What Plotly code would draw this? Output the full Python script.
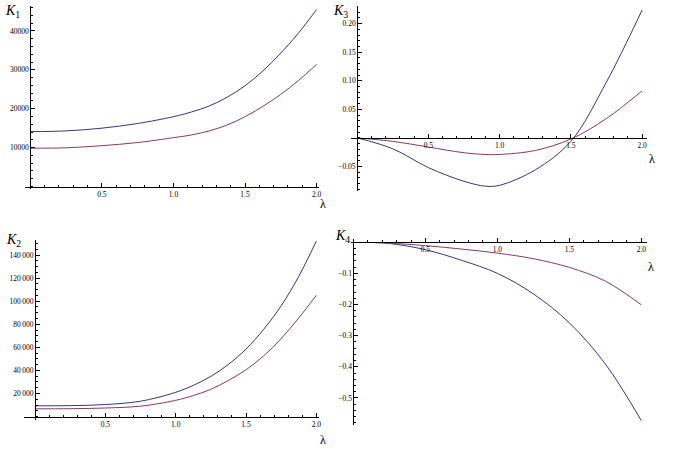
import plotly.graph_objects as go

W, H = 673, 456

# ---------------- data ----------------
lam_k1 = [0, 0.25, 0.5, 0.75, 1.0, 1.125, 1.25, 1.375, 1.5, 1.625, 1.75, 1.875, 2.0]
k1_blue = [14100, 14300, 15000, 16200, 17950, 19150, 20700, 22950, 25900, 29700, 34300, 39500, 45500]
k1_red = [9850, 9950, 10500, 11300, 12550, 13250, 14300, 15800, 17950, 20600, 23700, 27300, 31400]

lam_k2 = [0, 0.25, 0.5, 0.75, 1.0, 1.125, 1.25, 1.375, 1.5, 1.625, 1.75, 1.875, 2.0]
k2_blue = [9300, 9450, 10400, 13300, 21000, 27000, 34800, 45200, 58500, 75500, 96000, 121500, 152000]
k2_red = [6700, 6800, 7400, 9000, 14040, 18200, 23600, 31300, 40500, 52500, 67500, 85500, 105000]

lam_k3 = [0, 0.25, 0.5, 0.75, 0.9, 1.0, 1.25, 1.5, 1.75, 2.0]
k3_blue = [0, -0.019, -0.052, -0.076, -0.0845, -0.083, -0.056, -0.006, 0.098, 0.224]
k3_red = [0, -0.006, -0.016, -0.026, -0.029, -0.029, -0.022, -0.002, 0.034, 0.0825]

lam_k4 = [0.12, 0.25, 0.5, 0.75, 1.0, 1.25, 1.5, 1.75, 2.0]
k4_blue = [-0.001, -0.004, -0.024, -0.058, -0.100, -0.166, -0.259, -0.391, -0.573]
k4_red = [-0.0005, -0.003, -0.011, -0.022, -0.035, -0.053, -0.081, -0.125, -0.201]

x_ticks = [0.5, 1.0, 1.5, 2.0]
x_ticktext = ["0.5", "1.0", "1.5", "2.0"]

k1_ticks = [10000, 20000, 30000, 40000]
k1_ticktext = ["10000", "20000", "30000", "40000"]
k2_ticks = [20000, 40000, 60000, 80000, 100000, 120000, 140000]
k2_ticktext = ["20\u2009000", "40\u2009000", "60\u2009000", "80\u2009000",
               "100\u2009000", "120\u2009000", "140\u2009000"]
k3_ticks = [-0.05, 0.05, 0.10, 0.15, 0.20]
k3_ticktext = ["\u22120.05", "0.05", "0.10", "0.15", "0.20"]
k4_ticks = [-0.5, -0.4, -0.3, -0.2, -0.1]
k4_ticktext = ["\u22120.5", "\u22120.4", "\u22120.3", "\u22120.2", "\u22120.1"]

BLUE = "#37377f"
RED = "#853b66"
FONT = "Liberation Serif"

# panel geometry in pixels: x-domain (left,right), y-domain (top,bottom), ranges
panels = [
    dict(lam=lam_k1, blue=k1_blue, red=k1_red,
         xd=(25, 320), xr=(-0.038, 2.014), yd=(6, 189), yr=(-640, 46400),
         yt=k1_ticks, ytt=k1_ticktext, ymin=2000,
         label="<i>K</i><sub>1</sub>", lpos=(3, 12), lampos=(324, 204)),
    dict(lam=lam_k3, blue=k3_blue, red=k3_red,
         xd=(353, 650), xr=(-0.04, 2.035), yd=(6, 191), yr=(-0.093, 0.231),
         yt=k3_ticks, ytt=k3_ticktext, ymin=0.01,
         label="<i>K</i><sub>3</sub>", lpos=(332, 12), lampos=(655, 159)),
    dict(lam=lam_k2, blue=k2_blue, red=k2_red,
         xd=(24, 320), xr=(-0.08, 2.016), yd=(240, 420), yr=(-3000, 153000),
         yt=k2_ticks, ytt=k2_ticktext, ymin=5000,
         label="<i>K</i><sub>2</sub>", lpos=(4, 240), lampos=(324, 440)),
    dict(lam=lam_k4, blue=k4_blue, red=k4_red,
         xd=(353, 650), xr=(-0.014, 2.04), yd=(239, 425), yr=(-0.587, 0.0103),
         yt=k4_ticks, ytt=k4_ticktext, ymin=0.02,
         label="<i>K</i><sub>4</sub>", lpos=(334, 236), lampos=(654, 267)),
]

fig = go.Figure()
layout = dict(width=W, height=H, margin=dict(l=0, r=0, t=0, b=0),
              paper_bgcolor="white", plot_bgcolor="white", showlegend=False)
annotations = []

for i, p in enumerate(panels, start=1):
    sfx = "" if i == 1 else str(i)
    xd = [p["xd"][0] / W, p["xd"][1] / W]
    yd = [1 - p["yd"][1] / H, 1 - p["yd"][0] / H]
    # paper positions where the other axis crosses zero
    x0 = xd[0] + (0 - p["xr"][0]) / (p["xr"][1] - p["xr"][0]) * (xd[1] - xd[0])
    y0 = yd[0] + (0 - p["yr"][0]) / (p["yr"][1] - p["yr"][0]) * (yd[1] - yd[0])

    for vals, col in ((p["blue"], BLUE), (p["red"], RED)):
        fig.add_trace(go.Scatter(x=p["lam"], y=vals, mode="lines",
                                 line=dict(color=col, width=1, shape="spline", smoothing=1),
                                 xaxis="x" + sfx, yaxis="y" + sfx, hoverinfo="skip"))

    layout["xaxis" + sfx] = dict(
        domain=xd, range=list(p["xr"]), anchor="free", position=y0,
        showline=True, linecolor="black", linewidth=1, showgrid=False, zeroline=False,
        tickmode="array", tickvals=x_ticks, ticktext=x_ticktext,
        ticks="inside", ticklen=4, tickcolor="black", tickwidth=1,
        minor=dict(tickmode="linear", tick0=0, dtick=0.1, ticks="inside", ticklen=2,
                   tickcolor="black", tickwidth=1, showgrid=False),
        tickfont=dict(family=FONT, size=7.5, color="black"), fixedrange=True)
    layout["yaxis" + sfx] = dict(
        domain=yd, range=list(p["yr"]), anchor="free", position=x0,
        showline=True, linecolor="black", linewidth=1, showgrid=False, zeroline=False,
        tickmode="array", tickvals=p["yt"], ticktext=p["ytt"],
        ticks="inside", ticklen=4, tickcolor="black", tickwidth=1,
        minor=dict(tickmode="linear", tick0=0, dtick=p["ymin"], ticks="inside", ticklen=2,
                   tickcolor="black", tickwidth=1, showgrid=False),
        tickfont=dict(family=FONT, size=7.5, color="black"), fixedrange=True)

    annotations.append(dict(text=p["label"], xref="paper", yref="paper",
                            x=p["lpos"][0] / W, y=1 - p["lpos"][1] / H,
                            xanchor="left", yanchor="middle", showarrow=False,
                            font=dict(family=FONT, size=14, color="black")))
    annotations.append(dict(text="\u03bb", xref="paper", yref="paper",
                            x=p["lampos"][0] / W, y=1 - p["lampos"][1] / H,
                            xanchor="center", yanchor="middle", showarrow=False,
                            font=dict(family=FONT, size=12, color="black")))

layout["annotations"] = annotations
fig.update_layout(**layout)
fig.write_html("out.html", config={"displayModeBar": False},
               post_script="document.body.style.margin='0';document.body.style.overflow='hidden';")
